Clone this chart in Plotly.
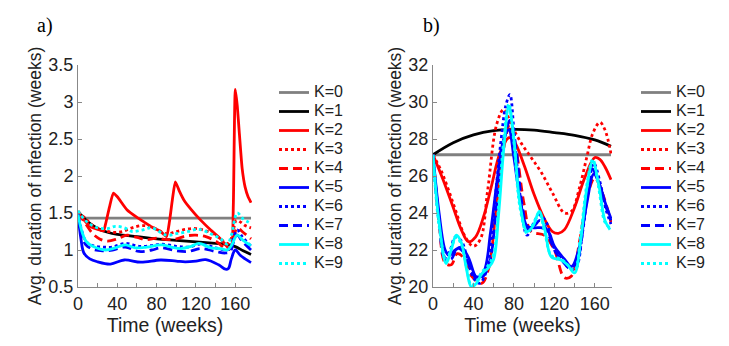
import plotly.graph_objects as go

# ---- panel a) : time (weeks) and avg. duration of infection ----
a_k0_t = [0, 176]
a_k0_v = [1.43, 1.43]
a_k1_t = [0, 10, 20, 30, 40, 60, 80, 100, 120, 140, 150, 160, 168, 176]
a_k1_v = [1.52, 1.38, 1.29, 1.24, 1.21, 1.18, 1.15, 1.13, 1.11, 1.09, 1.08, 1.045, 0.99, 0.94]
a_k2_t = [0, 5, 10, 15, 20, 26, 28, 32, 36, 40, 50, 60, 67, 75, 84, 90, 93, 96, 99, 103, 108,
          115, 125, 135, 145, 152, 156, 158, 160, 162, 164, 167, 170, 173, 176]
a_k2_v = [1.50, 1.42, 1.35, 1.30, 1.28, 1.26, 1.35, 1.58, 1.77, 1.72, 1.54, 1.44, 1.38, 1.31, 1.25, 1.18,
          1.38, 1.68, 1.92, 1.80, 1.67, 1.55, 1.40, 1.27, 1.15, 1.04, 1.02, 1.6, 3.17, 2.95, 2.6, 2.1,
          1.85, 1.72, 1.64]
a_k3_t = [0, 8, 15, 25, 35, 45, 55, 65, 75, 90, 100, 110, 120, 130, 140, 148, 153, 157, 161, 165, 170, 176]
a_k3_v = [1.52, 1.42, 1.33, 1.27, 1.24, 1.25, 1.30, 1.33, 1.31, 1.22, 1.25, 1.28, 1.29, 1.26, 1.20, 1.12,
          1.09, 1.20, 1.40, 1.38, 1.33, 1.30]
a_k4_t = [0, 8, 15, 22, 30, 40, 50, 60, 70, 80, 90, 100, 110, 120, 130, 140, 150, 154, 158, 162, 167, 176]
a_k4_v = [1.50, 1.35, 1.22, 1.15, 1.12, 1.15, 1.20, 1.17, 1.14, 1.16, 1.14, 1.15, 1.19, 1.20, 1.18, 1.12,
          1.02, 1.01, 1.15, 1.30, 1.25, 1.15]
a_k5_t = [0, 3, 6, 12, 20, 33, 47, 64, 84, 100, 109, 120, 130, 143, 150, 153, 156, 160, 165, 170, 176]
a_k5_v = [1.48, 1.15, 0.96, 0.88, 0.84, 0.81, 0.865, 0.835, 0.865, 0.85, 0.84, 0.85, 0.87, 0.80, 0.74,
          0.75, 0.88, 1.00, 0.93, 0.88, 0.83]
a_k6_t = [0, 4, 8, 15, 25, 35, 48, 62, 75, 85, 100, 112, 125, 140, 150, 155, 158, 162, 167, 176]
a_k6_v = [1.50, 1.25, 1.12, 1.06, 1.04, 1.04, 1.09, 1.05, 1.06, 1.08, 1.05, 1.04, 1.08, 1.03, 1.00, 1.02,
          1.15, 1.27, 1.18, 1.05]
a_k7_t = [0, 4, 8, 15, 25, 35, 48, 62, 75, 85, 100, 112, 125, 140, 150, 155, 158, 162, 167, 176]
a_k7_v = [1.48, 1.20, 1.07, 1.01, 0.99, 1.00, 1.04, 0.98, 1.00, 1.03, 0.99, 0.98, 1.02, 0.98, 0.96, 0.98,
          1.10, 1.20, 1.12, 1.00]
a_k8_t = [0, 4, 8, 15, 28, 38, 48, 58, 70, 85, 95, 105, 115, 123, 135, 145, 152, 156, 162, 168, 176]
a_k8_v = [1.48, 1.25, 1.12, 1.05, 1.00, 1.03, 1.07, 1.03, 1.04, 1.07, 1.04, 1.02, 1.05, 1.09, 1.03, 1.02,
          1.00, 1.06, 1.20, 1.13, 1.06]
a_k9_t = [0, 6, 12, 20, 30, 38, 47, 55, 65, 75, 90, 100, 112, 123, 135, 145, 152, 156, 162, 168, 176]
a_k9_v = [1.53, 1.42, 1.35, 1.30, 1.29, 1.32, 1.30, 1.25, 1.27, 1.30, 1.20, 1.22, 1.25, 1.28, 1.22, 1.15,
          1.08, 1.20, 1.50, 1.42, 1.36]

# ---- panel b) ----
b_k0_t = [0, 176]
b_k0_v = [27.15, 27.15]
b_k1_t = [0, 20, 40, 60, 80, 100, 120, 140, 160, 176]
b_k1_v = [27.15, 27.8, 28.22, 28.45, 28.52, 28.48, 28.35, 28.2, 27.95, 27.6]
b_k2_t = [0, 10, 20, 28, 35, 42, 50, 58, 66, 75, 80, 90, 100, 110, 118, 124, 130, 140, 150, 160, 165, 170, 176]
b_k2_v = [27.15, 25.8, 24.3, 23.1, 22.45, 22.7, 23.8, 25.5, 27.2, 28.07, 27.9, 26.6, 25.0, 23.7, 23.0,
          22.9, 23.1, 24.3, 25.9, 27.0, 26.9, 26.5, 25.8]
b_k3_t = [0, 8, 15, 22, 32, 40, 47, 54, 63, 70, 78, 87, 97, 107, 118, 130, 137, 145, 152, 158, 165, 170, 176]
b_k3_v = [27.15, 26.3, 25.3, 24.2, 22.7, 22.2, 22.6, 25.2, 28.8, 29.6, 28.7, 27.8, 27.0, 26.2, 25.1, 24.0,
          24.1, 25.4, 27.0, 28.3, 28.9, 28.5, 27.2]
b_k4_t = [0, 6, 12, 18, 24, 30, 38, 48, 55, 62, 70, 76, 82, 90, 97, 110, 120, 130, 137, 145, 153, 160, 168, 176]
b_k4_v = [27.15, 23.5, 21.3, 21.2, 21.8, 21.6, 20.6, 20.2, 21.0, 24.0, 27.5, 28.8, 27.5, 24.5, 23.0, 22.8,
          22.0, 20.5, 20.6, 22.5, 25.0, 25.9, 25.0, 23.5]
b_k5_t = [0, 6, 12, 16, 22, 28, 35, 43, 50, 57, 64, 70, 75, 80, 86, 93, 100, 108, 114, 120, 130, 137, 144,
          152, 159, 165, 170, 176]
b_k5_v = [27.15, 24.0, 22.0, 21.7, 22.0, 22.15, 21.6, 20.55, 20.8, 23.0, 26.0, 28.0, 28.5, 27.0, 24.8, 23.3,
          23.2, 23.2, 23.0, 22.2, 21.5, 21.1, 22.0, 24.5, 26.1, 25.5, 24.6, 23.7]
b_k6_t = [0, 6, 12, 17, 22, 28, 35, 40, 46, 53, 60, 67, 72, 76, 80, 86, 93, 99, 105, 112, 118, 126, 135, 141,
          148, 154, 159, 165, 171, 176]
b_k6_v = [27.15, 23.5, 21.6, 22.0, 22.7, 22.5, 21.3, 20.5, 20.2, 20.9, 24.0, 27.8, 29.8, 30.4, 28.5, 25.0,
          22.8, 23.4, 23.9, 23.5, 22.3, 21.6, 21.0, 21.0, 23.0, 25.5, 26.7, 25.7, 24.2, 23.4]
b_k7_t = [0, 6, 12, 18, 24, 30, 37, 44, 50, 56, 63, 70, 76, 82, 88, 94, 100, 106, 113, 120, 128, 136, 143,
          150, 157, 163, 170, 176]
b_k7_v = [27.15, 23.7, 21.5, 21.5, 22.1, 21.9, 21.0, 20.4, 20.6, 21.3, 24.5, 27.8, 29.0, 27.5, 24.5, 23.1,
          23.3, 23.6, 23.0, 22.0, 21.4, 21.0, 21.5, 24.0, 26.4, 25.8, 24.5, 23.6]
b_k8_t = [0, 6, 13, 18, 23, 28, 33, 38, 43, 48, 55, 60, 65, 70, 75, 80, 86, 93, 99, 105, 111, 117, 127, 133,
          140, 146, 152, 158, 164, 170, 175]
b_k8_v = [27.15, 23.5, 21.27, 22.0, 22.8, 22.4, 21.0, 20.0, 20.2, 20.7, 21.05, 21.5, 24.0, 27.5, 29.78, 28.0,
          24.5, 23.0, 23.3, 24.08, 23.0, 21.63, 21.45, 21.2, 20.76, 22.5, 25.3, 26.8, 25.5, 23.6, 23.1]
b_k9_t = b_k8_t
b_k9_v = [27.15, 23.3, 21.4, 22.1, 22.7, 22.3, 21.1, 20.1, 20.3, 20.8, 21.2, 21.8, 24.5, 28.0, 29.9, 27.8,
          24.3, 22.9, 23.4, 24.0, 22.8, 21.7, 21.5, 21.2, 20.9, 22.8, 25.5, 26.9, 25.3, 23.5, 23.2]

names = ['K=0', 'K=1', 'K=2', 'K=3', 'K=4', 'K=5', 'K=6', 'K=7', 'K=8', 'K=9']
colors = ['#808080', 'black', '#ff0000', '#ff0000', '#ff0000', '#0000ff', '#0000ff', '#0000ff', '#00ffff', '#00ffff']
dashes = ['solid', 'solid', 'solid', 'dot', '9px,5px', 'solid', 'dot', '9px,5px', 'solid', 'dot']

panel_a = [(a_k0_t, a_k0_v), (a_k1_t, a_k1_v), (a_k2_t, a_k2_v), (a_k3_t, a_k3_v), (a_k4_t, a_k4_v),
           (a_k5_t, a_k5_v), (a_k6_t, a_k6_v), (a_k7_t, a_k7_v), (a_k8_t, a_k8_v), (a_k9_t, a_k9_v)]
panel_b = [(b_k0_t, b_k0_v), (b_k1_t, b_k1_v), (b_k2_t, b_k2_v), (b_k3_t, b_k3_v), (b_k4_t, b_k4_v),
           (b_k5_t, b_k5_v), (b_k6_t, b_k6_v), (b_k7_t, b_k7_v), (b_k8_t, b_k8_v), (b_k9_t, b_k9_v)]

# legend entries: bigger text than the legend's own row-height font
label = '<span style="font-size:16px">{}</span>'

fig = go.Figure()
for i, (t, v) in enumerate(panel_a):
    smooth = 0.5 if i == 2 else 1.0
    fig.add_trace(go.Scatter(x=t, y=v, mode='lines', name=label.format(names[i]), xaxis='x', yaxis='y',
                             legend='legend',
                             line=dict(color=colors[i], dash=dashes[i], width=2.8, shape='spline',
                                       smoothing=smooth)))
for i, (t, v) in enumerate(panel_b):
    fig.add_trace(go.Scatter(x=t, y=v, mode='lines', name=label.format(names[i]), xaxis='x2', yaxis='y2',
                             legend='legend2',
                             line=dict(color=colors[i], dash=dashes[i], width=2.8, shape='spline')))

# page body adds an 8px margin, so the figure is laid out in (screen - 8) pixels
OFF = 8
W, H = 729 - OFF, 346 - OFF


def px_x(p):
    return (p - OFF) / W


def px_y(p):
    return 1 - (p - OFF) / H


xticks = list(range(0, 180, 20))
xlabels = [str(t) if t % 40 == 0 else '' for t in xticks]
txt = '#222222'
sans = 'Liberation Sans, Arial'
axis_font = dict(family=sans, size=18, color=txt)

common_x = dict(range=[0, 177], tickmode='array', tickvals=xticks, ticktext=xlabels, ticks='inside',
                ticklen=4, tickcolor='#888888', showline=True, linecolor='#888888', linewidth=1,
                showgrid=False, zeroline=False, tickfont=axis_font, automargin=False,
                title=dict(text='Time (weeks)', font=dict(family=sans, size=19.5, color=txt), standoff=2))
common_y = dict(ticks='inside', ticklen=4, tickcolor='#888888', showline=True, linecolor='#888888',
                linewidth=1, showgrid=False, zeroline=False, tickfont=axis_font, automargin=False,
                title=dict(text='Avg. duration of infection (weeks)',
                           font=dict(family=sans, size=17.5, color=txt), standoff=2))

legend_style = dict(y=px_y(78), xanchor='left', yanchor='top', bgcolor='rgba(0,0,0,0)',
                    font=dict(family=sans, size=12.3, color=txt), tracegroupgap=0, itemwidth=30)
fig.update_layout(
    width=W, height=H,
    margin=dict(l=0, r=0, t=0, b=0),
    plot_bgcolor='white', paper_bgcolor='white',
    xaxis=dict(domain=[px_x(78), px_x(252)], anchor='y', **common_x),
    yaxis=dict(domain=[px_y(287), px_y(65)], anchor='x', range=[0.5, 3.5],
               tickvals=[0.5, 1, 1.5, 2, 2.5, 3, 3.5],
               ticktext=['0.5', '1', '1.5', '2', '2.5', '3', '3.5'], **common_y),
    xaxis2=dict(domain=[px_x(433), px_x(612)], anchor='y2', **common_x),
    yaxis2=dict(domain=[px_y(287), px_y(65)], anchor='x2', range=[20, 32],
                tickvals=[20, 22, 24, 26, 28, 30, 32], **common_y),
    legend=dict(x=px_x(274), **legend_style),
    legend2=dict(x=px_x(636), **legend_style),
    annotations=[
        dict(text='a)', x=px_x(45), y=px_y(25), xref='paper', yref='paper', showarrow=False,
             xanchor='center', yanchor='middle',
             font=dict(family='Liberation Serif, Times New Roman', size=20, color='black')),
        dict(text='b)', x=px_x(431), y=px_y(25), xref='paper', yref='paper', showarrow=False,
             xanchor='center', yanchor='middle',
             font=dict(family='Liberation Serif, Times New Roman', size=20, color='black')),
    ],
)

fig.write_html("out.html")
